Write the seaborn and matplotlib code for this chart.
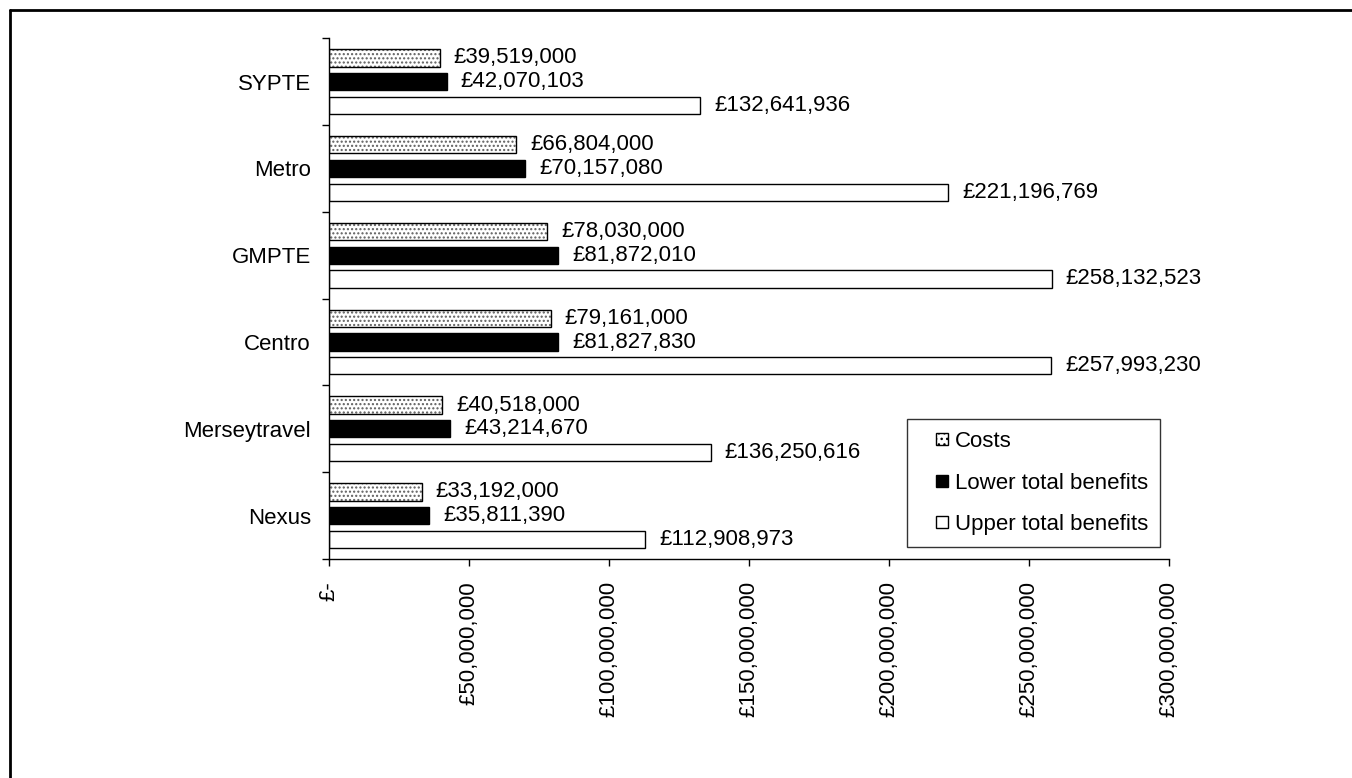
import matplotlib
matplotlib.use("Agg")
import matplotlib.pyplot as plt
import seaborn as sns
import pandas as pd
from matplotlib.patches import Rectangle, Patch
from matplotlib.lines import Line2D
from matplotlib.legend_handler import HandlerPatch
from matplotlib.ticker import FuncFormatter, FixedLocator

agencies = ["SYPTE", "Metro", "GMPTE", "Centro", "Merseytravel", "Nexus"]
series = ["Costs", "Lower total benefits", "Upper total benefits"]
costs = [39519000, 66804000, 78030000, 79161000, 40518000, 33192000]
lower = [42070103, 70157080, 81872010, 81827830, 43214670, 35811390]
upper = [132641936, 221196769, 258132523, 257993230, 136250616, 112908973]
x_ticks = [0, 50000000, 100000000, 150000000, 200000000, 250000000, 300000000]

rows = []
for s, vals in zip(series, [costs, lower, upper]):
    for a, v in zip(agencies, vals):
        rows.append({"agency": a, "series": s, "value": v})
df = pd.DataFrame(rows)

sns.set_theme(style="white")
plt.rcParams["font.family"] = ["Liberation Sans", "DejaVu Sans"]
plt.rcParams["text.color"] = "black"
plt.rcParams["xtick.color"] = "black"
plt.rcParams["ytick.color"] = "black"
plt.rcParams["xtick.labelcolor"] = "black"
plt.rcParams["ytick.labelcolor"] = "black"

W, H = 1352, 778
fig = plt.figure(figsize=(W / 100, H / 100), dpi=100)
ax = fig.add_axes([329 / W, 1 - 559 / H, (1169 - 329) / W, (559 - 38.3) / H])

palette = {"Costs": "white", "Lower total benefits": "black", "Upper total benefits": "white"}
sns.barplot(data=df, y="agency", x="value", hue="series", order=agencies,
            hue_order=series, palette=palette, orient="h", width=0.82, gap=0.27,
            edgecolor="black", linewidth=1.0, legend=False, ax=ax, saturation=1)

# dotted hatch for costs bars (gray dots, black outline)
for p in ax.containers[0]:
    p.set_hatch("....")
    p.set_edgecolor("#5e5e5e")
    p.set_linewidth(0)
    x0, y0 = p.get_xy()
    ax.add_patch(Rectangle((x0, y0), p.get_width(), p.get_height(),
                           fill=False, edgecolor="black", linewidth=1.0, zorder=p.get_zorder() + 0.1))

for cont, vals in zip(ax.containers, [costs, lower, upper]):
    ax.bar_label(cont, labels=[f"£{v:,.0f}" for v in vals], padding=10, fontsize=16, color="black")

ax.set_xlim(0, 300000000)
ax.set_ylim(len(agencies) - 0.5, -0.5)
ax.set_xlabel("")
ax.set_ylabel("")

ax.xaxis.set_major_locator(FixedLocator(x_ticks))
ax.xaxis.set_major_formatter(FuncFormatter(lambda v, p: "£-" if v == 0 else f"£{v:,.0f}"))
ax.tick_params(axis="x", which="major", bottom=True, direction="out", length=5, width=1,
               color="black", labelcolor="black", labelsize=16, pad=11, labelrotation=90)
for lab in ax.get_xticklabels():
    lab.set_verticalalignment("top")

ax.yaxis.set_minor_locator(FixedLocator([i - 0.5 for i in range(len(agencies) + 1)]))
ax.tick_params(axis="y", which="major", left=False, length=0, labelsize=16, pad=13,
               labelcolor="black")
ax.tick_params(axis="y", which="minor", left=True, direction="out", length=5, width=1, color="black")

for side in ["top", "right"]:
    ax.spines[side].set_visible(False)
for side in ["left", "bottom"]:
    ax.spines[side].set_color("black")
    ax.spines[side].set_linewidth(1.0)
ax.grid(False)


class SquareHandler(HandlerPatch):
    def create_artists(self, legend, orig_handle, xdescent, ydescent, width, height, fontsize, trans):
        s = 0.55 * fontsize
        r = Rectangle((-xdescent + width - s, -ydescent + (height - s) / 2), s, s)
        self.update_prop(r, orig_handle, legend)
        r.set_transform(trans)
        return [r]


handles = [Patch(facecolor="white", edgecolor="black", hatch="...", linewidth=1),
           Patch(facecolor="black", edgecolor="black", linewidth=1),
           Patch(facecolor="white", edgecolor="black", linewidth=1)]
leg = fig.legend(handles, series, loc="upper left", bbox_to_anchor=(907 / W, 1 - 419 / H),
                 fontsize=16, frameon=True, fancybox=False, shadow=False,
                 borderpad=0.55, labelspacing=0.92, handlelength=1.3, handleheight=0.55,
                 handletextpad=0.3, borderaxespad=0, labelcolor="black",
                 handler_map={Patch: SquareHandler()})
leg.get_frame().set_edgecolor("black")
leg.get_frame().set_linewidth(1.0)

# figure border (top and left)
fig.add_artist(Line2D([10 / W, 10 / W], [0, 1 - 10 / H], color="black", linewidth=2))
fig.add_artist(Line2D([10 / W, 1], [1 - 10 / H, 1 - 10 / H], color="black", linewidth=2))

fig.savefig("out.png", dpi=100, facecolor="white")
